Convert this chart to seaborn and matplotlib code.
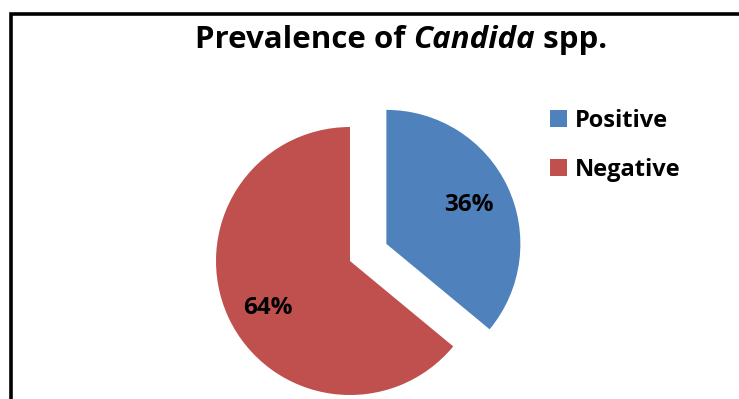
import matplotlib
matplotlib.use("Agg")
import matplotlib.pyplot as plt
import seaborn as sns
from matplotlib.patches import Rectangle

# Data
categories = ["Positive", "Negative"]
shares = [36, 64]
slice_colors = ["#4F81BD", "#C0504D"]
title_parts = ["Prevalence of ", "Candida", " spp."]

sns.set_theme(style="white")
plt.rcParams["font.family"] = ["Open Sans", "DejaVu Sans"]
plt.rcParams["text.color"] = "black"

W, H = 739, 399
fig = plt.figure(figsize=(W / 100, H / 100), dpi=100)
fig.patch.set_facecolor("white")

# Chart frame (left and top edges visible)
frame = Rectangle((11.2 / W, -0.2), 1.5, (H - 13.7) / H + 0.2,
                  transform=fig.transFigure, fill=False,
                  edgecolor="black", linewidth=2.6, clip_on=False)
fig.patches.append(frame)

# Pie axes: center at (350, 138) px from bottom-left, radius 134 px
R = 134.0
cx, cy = 350.0, 138.0
half = 200.0
ax = fig.add_axes([(cx - half) / W, (cy - half) / H, 2 * half / W, 2 * half / H])

palette = sns.color_palette(slice_colors)
wedges, _, autotexts = ax.pie(
    shares, colors=palette, startangle=90, counterclock=False,
    explode=[0.3, 0.0], radius=1.0, autopct="%1.0f%%", pctdistance=0.68,
    wedgeprops=dict(linewidth=0),
    textprops=dict(fontsize=17.5, fontweight="bold", color="black"),
)
ax.set_xlim(-half / R, half / R)
ax.set_ylim(-half / R, half / R)
ax.axis("off")
for w in wedges:
    w.set_clip_on(False)
# nudge the larger slice's label slightly lower
lx, ly = autotexts[1].get_position()
autotexts[1].set_position((lx, ly - 8 / R))

# Legend
fig.legend(wedges, categories, loc="upper left",
           bbox_to_anchor=(550 / W, 1 - 109 / H), frameon=False,
           prop=dict(size=17, weight="bold"), labelcolor="black",
           handlelength=0.7, handleheight=0.7, handletextpad=0.35,
           labelspacing=1.05, borderaxespad=0, borderpad=0)

# Title with italic genus name
fig.canvas.draw()
renderer = fig.canvas.get_renderer()
styles = ["normal", "italic", "normal"]
pieces = []
for part, st in zip(title_parts, styles):
    t = fig.text(0, 0, part, fontsize=22.5, fontweight="bold", style=st,
                 color="black", ha="left", va="baseline")
    pieces.append(t)
widths = [p.get_window_extent(renderer).width for p in pieces]
total = sum(widths)
x = 401 - total / 2
for p, w in zip(pieces, widths):
    p.set_position((x / W, (H - 48) / H))
    x += w

fig.savefig("out.png", dpi=100)
